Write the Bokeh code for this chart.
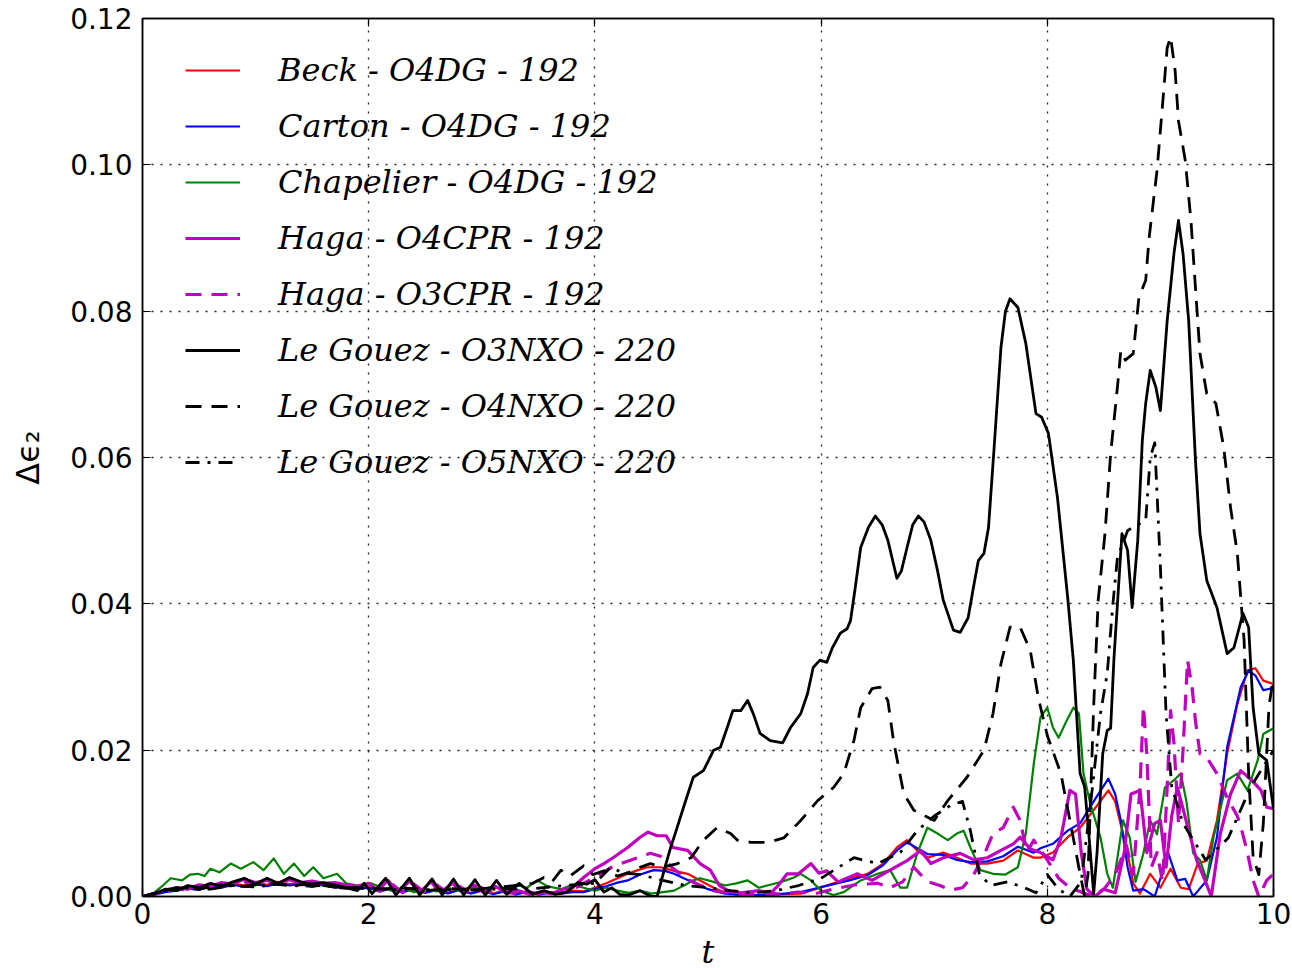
from bokeh.plotting import figure
from bokeh.models import (Legend, LegendItem, LinearAxis, FixedTicker,
                          CustomJSTickFormatter, Range1d)
from bokeh.embed import file_html
from bokeh.resources import INLINE

# ---- series: (t, delta eps_2) ----
beck_t = [0.0, 0.1, 0.2, 0.3, 0.4, 0.5, 0.6, 0.7, 0.8, 0.9, 1.0, 1.1, 1.2, 1.3, 1.4, 1.5, 1.6, 1.7, 1.8, 1.9,
          2.0, 2.1, 2.2, 2.3, 2.4, 2.5, 2.6, 2.7, 2.8, 2.9, 3.0, 3.1, 3.2, 3.3, 3.4, 3.5, 3.6, 3.7, 3.8, 3.9,
          4.0, 4.1, 4.2, 4.29, 4.38, 4.46, 4.58, 4.70, 4.82, 4.93, 5.05, 5.17, 5.3, 5.45, 5.6, 5.82, 5.95,
          6.11, 6.25, 6.41, 6.55, 6.67, 6.76, 6.85, 6.94, 7.08, 7.20, 7.32, 7.47, 7.61, 7.74, 7.88, 7.94,
          8.05, 8.18, 8.29, 8.41, 8.54, 8.60, 8.71, 8.76, 8.82, 8.91, 9.00, 9.09, 9.18, 9.25, 9.33, 9.41,
          9.50, 9.59, 9.68, 9.77, 9.84, 9.91, 9.97, 10.0]
beck_v = [0.0, 0.0003, 0.0008, 0.0010, 0.0013, 0.0011, 0.0016, 0.0014, 0.0018, 0.0015, 0.0019, 0.0016,
          0.0020, 0.0017, 0.0019, 0.0015, 0.0017, 0.0013, 0.0015, 0.0011, 0.0013, 0.0008, 0.0012, 0.0007,
          0.0011, 0.0006, 0.0010, 0.0005, 0.0010, 0.0005, 0.0009, 0.0004, 0.0008, 0.0004, 0.0007, 0.0004,
          0.0006, 0.0005, 0.0008, 0.0007, 0.0012, 0.0018, 0.0025, 0.0031, 0.0036, 0.0040, 0.0040, 0.0035,
          0.0031, 0.0022, 0.0012, 0.0004, 0.0003, 0.0002, 0.0003, 0.0004, 0.0010, 0.0018, 0.0024, 0.0031,
          0.0045, 0.0067, 0.0077, 0.0063, 0.0053, 0.0060, 0.0053, 0.0045, 0.0045, 0.0049, 0.0063, 0.0053,
          0.0053, 0.0060, 0.0081, 0.0094, 0.0118, 0.0145, 0.0130, 0.0059, 0.0018, 0.0004, 0.0031, 0.0012,
          0.0038, 0.0012, 0.0010, 0.0045, 0.0049, 0.0104, 0.0195, 0.0263, 0.0309, 0.0312, 0.0295, 0.0292,
          0.0290]

carton_t = [0.0, 0.1, 0.2, 0.3, 0.4, 0.5, 0.6, 0.7, 0.8, 0.9, 1.0, 1.1, 1.2, 1.3, 1.4, 1.5, 1.6, 1.7, 1.8, 1.9,
            2.0, 2.1, 2.2, 2.3, 2.4, 2.5, 2.6, 2.7, 2.8, 2.9, 3.0, 3.1, 3.2, 3.3, 3.4, 3.5, 3.6, 3.7, 3.8, 3.9,
            4.0, 4.1, 4.2, 4.29, 4.40, 4.52, 4.62, 4.70, 4.80, 4.87, 5.0, 5.15, 5.3, 5.45, 5.6, 5.82, 5.95,
            6.11, 6.25, 6.41, 6.55, 6.67, 6.76, 6.85, 6.94, 7.08, 7.20, 7.32, 7.47, 7.61, 7.74, 7.88, 7.94,
            8.05, 8.18, 8.29, 8.41, 8.54, 8.60, 8.65, 8.71, 8.76, 8.85, 8.95, 9.07, 9.15, 9.22, 9.29, 9.41,
            9.50, 9.59, 9.71, 9.78, 9.84, 9.91, 9.97, 10.0]
carton_v = [0.0, 0.0002, 0.0006, 0.0008, 0.0011, 0.0009, 0.0014, 0.0012, 0.0016, 0.0013, 0.0017, 0.0014,
            0.0018, 0.0015, 0.0017, 0.0013, 0.0016, 0.0012, 0.0014, 0.0010, 0.0012, 0.0007, 0.0011, 0.0006,
            0.0010, 0.0005, 0.0009, 0.0004, 0.0009, 0.0004, 0.0008, 0.0003, 0.0007, 0.0003, 0.0006, 0.0003,
            0.0005, 0.0004, 0.0006, 0.0006, 0.0010, 0.0014, 0.0019, 0.0022, 0.0030, 0.0036, 0.0035, 0.0031,
            0.0024, 0.0019, 0.0010, 0.0004, 0.0002, 0.0002, 0.0003, 0.0006, 0.0011, 0.0017, 0.0022, 0.0029,
            0.0043, 0.0063, 0.0074, 0.0066, 0.0058, 0.0057, 0.0050, 0.0047, 0.0048, 0.0055, 0.0068, 0.0060,
            0.0066, 0.0072, 0.0090, 0.0100, 0.0130, 0.0161, 0.0140, 0.0104, 0.0040, 0.0008, 0.0010, 0.0000,
            0.0059, 0.0022, 0.0024, 0.0000, 0.0022, 0.0081, 0.0204, 0.0286, 0.0309, 0.0302, 0.0282, 0.0284,
            0.0288]

chapelier_t = [0.0, 0.1, 0.18, 0.25, 0.35, 0.42, 0.49, 0.55, 0.60, 0.68, 0.78, 0.87, 0.98, 1.07, 1.16, 1.25,
               1.34, 1.43, 1.51, 1.60, 1.72, 1.80, 1.90, 2.02, 2.12, 2.2, 2.3, 2.4, 2.5, 2.6, 2.7, 2.8, 2.9,
               3.0, 3.1, 3.2, 3.3, 3.4, 3.49, 3.58, 3.7, 3.8, 3.9, 4.0, 4.1, 4.2, 4.3, 4.4, 4.5, 4.6, 4.7,
               4.8, 4.87, 4.93, 5.05, 5.15, 5.25, 5.35, 5.45, 5.55, 5.65, 5.76, 5.82, 5.91, 6.0, 6.11, 6.2,
               6.35, 6.5, 6.61, 6.70, 6.76, 6.85, 6.94, 7.03, 7.12, 7.20, 7.26, 7.32, 7.41, 7.52, 7.63, 7.74,
               7.81, 7.88, 7.94, 8.00, 8.05, 8.10, 8.17, 8.23, 8.28, 8.32, 8.38, 8.47, 8.53, 8.58, 8.67, 8.73,
               8.78, 8.85, 8.91, 8.97, 9.04, 9.12, 9.18, 9.23, 9.29, 9.35, 9.41, 9.47, 9.59, 9.68, 9.77, 9.86,
               9.91, 10.0]
chapelier_v = [0.0, 0.0005, 0.0015, 0.0025, 0.0022, 0.0030, 0.0031, 0.0028, 0.0038, 0.0033, 0.0045, 0.0038,
               0.0047, 0.0036, 0.0052, 0.0031, 0.0045, 0.0028, 0.0040, 0.0025, 0.0031, 0.0018, 0.0015, 0.0018,
               0.0012, 0.0008, 0.0012, 0.0006, 0.0010, 0.0007, 0.0012, 0.0008, 0.0013, 0.0009, 0.0014, 0.0010,
               0.0016, 0.0012, 0.0022, 0.0014, 0.0010, 0.0016, 0.0012, 0.0008, 0.0012, 0.0008, 0.0005, 0.0008,
               0.0004, 0.0006, 0.0008, 0.0016, 0.0022, 0.0025, 0.0020, 0.0015, 0.0018, 0.0022, 0.0012, 0.0016,
               0.0020, 0.0026, 0.0031, 0.0022, 0.0008, 0.0002, 0.0006, 0.0022, 0.0031, 0.0036, 0.0012, 0.0012,
               0.0059, 0.0094, 0.0086, 0.0077, 0.0086, 0.0090, 0.0067, 0.0036, 0.0031, 0.0030, 0.0040, 0.0086,
               0.0181, 0.0245, 0.0258, 0.0231, 0.0217, 0.0240, 0.0258, 0.0250, 0.0168, 0.0127, 0.0081, 0.0031,
               0.0012, 0.0104, 0.0080, 0.0020, 0.0059, 0.0104, 0.0085, 0.0149, 0.0159, 0.0168, 0.0130, 0.0059,
               0.0050, 0.0022, 0.0081, 0.0159, 0.0168, 0.0145, 0.0186, 0.0222, 0.0230]

haga4_t = [0.0, 0.1, 0.2, 0.3, 0.4, 0.5, 0.6, 0.7, 0.8, 0.9, 1.0, 1.1, 1.2, 1.3, 1.4, 1.5, 1.6, 1.7, 1.8, 1.9,
           2.0, 2.08, 2.17, 2.26, 2.36, 2.45, 2.55, 2.64, 2.74, 2.83, 2.93, 3.02, 3.12, 3.22, 3.32, 3.42, 3.52,
           3.62, 3.72, 3.80, 3.90, 4.0, 4.08, 4.16, 4.29, 4.40, 4.47, 4.55, 4.63, 4.69, 4.82, 4.93, 5.02, 5.1,
           5.2, 5.3, 5.45, 5.55, 5.62, 5.70, 5.80, 5.91, 5.98, 6.05, 6.15, 6.32, 6.45, 6.61, 6.76, 6.88, 6.97,
           7.08, 7.23, 7.35, 7.47, 7.59, 7.70, 7.76, 7.85, 7.94, 8.05, 8.12, 8.20, 8.25, 8.30, 8.35, 8.42, 8.5,
           8.6, 8.68, 8.74, 8.82, 8.88, 8.95, 9.0, 9.05, 9.10, 9.15, 9.2, 9.25, 9.32, 9.40, 9.45, 9.53, 9.62,
           9.71, 9.80, 9.89, 9.94, 10.0]
haga4_v = [0.0, 0.0004, 0.0009, 0.0012, 0.0010, 0.0016, 0.0014, 0.0019, 0.0017, 0.0024, 0.0019, 0.0022,
           0.0018, 0.0023, 0.0019, 0.0021, 0.0018, 0.0019, 0.0016, 0.0014, 0.0018, 0.0008, 0.0022, 0.0006,
           0.0021, 0.0006, 0.0020, 0.0006, 0.0018, 0.0006, 0.0016, 0.0005, 0.0014, 0.0004, 0.0008, 0.0003,
           0.0006, 0.0004, 0.0010, 0.0012, 0.0026, 0.0038, 0.0045, 0.0053, 0.0067, 0.0081, 0.0088, 0.0083,
           0.0083, 0.0067, 0.0063, 0.0045, 0.0036, 0.0015, 0.0006, 0.0005, 0.0008, 0.0004, 0.0015, 0.0031,
           0.0031, 0.0045, 0.0032, 0.0035, 0.0020, 0.0031, 0.0022, 0.0036, 0.0049, 0.0063, 0.0045, 0.0053,
           0.0059, 0.0050, 0.0053, 0.0063, 0.0072, 0.0081, 0.0065, 0.0060, 0.0050, 0.0080, 0.0145, 0.0140,
           0.0060, 0.0010, 0.0000, 0.0010, 0.0005, 0.0060, 0.0140, 0.0145, 0.0060, 0.0100, 0.0104, 0.0040,
           0.0110, 0.0149, 0.0120, 0.0090, 0.0050, 0.0020, 0.0000, 0.0086, 0.0140, 0.0172, 0.0160, 0.0145,
           0.0122, 0.0120]

haga3_t = [0.0, 0.1, 0.2, 0.3, 0.4, 0.5, 0.6, 0.7, 0.8, 0.9, 1.0, 1.1, 1.2, 1.3, 1.4, 1.5, 1.6, 1.7, 1.8, 1.9,
           2.0, 2.1, 2.2, 2.3, 2.4, 2.5, 2.6, 2.7, 2.8, 2.9, 3.0, 3.1, 3.2, 3.3, 3.4, 3.5, 3.6, 3.7, 3.8, 3.9,
           4.05, 4.15, 4.23, 4.38, 4.49, 4.58, 4.68, 4.80, 4.92, 5.05, 5.2, 5.35, 5.5, 5.65, 5.8, 5.95, 6.1,
           6.3, 6.5, 6.61, 6.72, 6.82, 6.88, 6.95, 7.05, 7.15, 7.25, 7.35, 7.45, 7.52, 7.61, 7.70, 7.76, 7.82,
           7.88, 8.00, 8.1, 8.2, 8.3, 8.4, 8.5, 8.6, 8.7, 8.76, 8.82, 8.85, 8.88, 8.92, 8.97, 9.02, 9.06, 9.09,
           9.12, 9.16, 9.20, 9.24, 9.28, 9.31, 9.35, 9.41, 9.50, 9.59, 9.68, 9.72, 9.77, 9.82, 9.87, 9.94, 10.0]
haga3_v = [0.0, 0.0003, 0.0007, 0.0010, 0.0009, 0.0014, 0.0012, 0.0017, 0.0015, 0.0020, 0.0017, 0.0021,
           0.0017, 0.0022, 0.0018, 0.0020, 0.0017, 0.0018, 0.0015, 0.0013, 0.0016, 0.0007, 0.0018, 0.0005,
           0.0017, 0.0005, 0.0016, 0.0005, 0.0014, 0.0005, 0.0012, 0.0004, 0.0010, 0.0003, 0.0007, 0.0003,
           0.0005, 0.0004, 0.0009, 0.0018, 0.0031, 0.0040, 0.0045, 0.0053, 0.0059, 0.0055, 0.0040, 0.0025,
           0.0016, 0.0008, 0.0004, 0.0002, 0.0005, 0.0003, 0.0006, 0.0004, 0.0010, 0.0016, 0.0018, 0.0012,
           0.0020, 0.0040, 0.0030, 0.0020, 0.0015, 0.0009, 0.0012, 0.0030, 0.0060, 0.0086, 0.0094, 0.0122,
           0.0104, 0.0060, 0.0077, 0.0050, 0.0025, 0.0012, 0.0006, 0.0000, 0.0010, 0.0030, 0.0070, 0.0030,
           0.0150, 0.0260, 0.0195, 0.0040, 0.0060, 0.0020, 0.0150, 0.0254, 0.0210, 0.0100, 0.0200, 0.0323,
           0.0286, 0.0240, 0.0195, 0.0190, 0.0168, 0.0135, 0.0110, 0.0090, 0.0060, 0.0022, 0.0000, 0.0022,
           0.0031]

gouez3_t = [0.0, 0.1, 0.2, 0.3, 0.4, 0.5, 0.6, 0.7, 0.8, 0.9, 1.0, 1.1, 1.2, 1.3, 1.4, 1.5, 1.6, 1.7, 1.8, 1.9,
            1.96, 2.03, 2.15, 2.24, 2.36, 2.45, 2.56, 2.65, 2.75, 2.84, 2.94, 3.03, 3.13, 3.22, 3.33, 3.45, 3.55,
            3.65, 3.75, 3.85, 3.93, 4.0, 4.08, 4.15, 4.22, 4.3, 4.4, 4.5, 4.55, 4.62, 4.67, 4.71, 4.79, 4.87,
            4.96, 5.05, 5.11, 5.17, 5.22, 5.29, 5.35, 5.40, 5.46, 5.55, 5.66, 5.73, 5.82, 5.88, 5.93, 5.99,
            6.05, 6.10, 6.17, 6.23, 6.26, 6.30, 6.35, 6.42, 6.48, 6.54, 6.59, 6.67, 6.71, 6.76, 6.81, 6.86,
            6.91, 6.97, 7.03, 7.08, 7.17, 7.23, 7.30, 7.35, 7.39, 7.44, 7.48, 7.53, 7.59, 7.63, 7.67, 7.74,
            7.81, 7.90, 7.95, 8.01, 8.09, 8.18, 8.23, 8.29, 8.33, 8.37, 8.41, 8.44, 8.49, 8.53, 8.56, 8.59,
            8.66, 8.71, 8.75, 8.80, 8.84, 8.87, 8.91, 8.96, 9.00, 9.06, 9.12, 9.16, 9.20, 9.25, 9.31, 9.35,
            9.41, 9.50, 9.59, 9.65, 9.73, 9.78, 9.82, 9.87, 9.94, 10.0]
gouez3_v = [0.0, 0.0003, 0.0010, 0.0008, 0.0015, 0.0012, 0.0018, 0.0014, 0.0020, 0.0025, 0.0017, 0.0025,
            0.0018, 0.0026, 0.0020, 0.0017, 0.0019, 0.0016, 0.0012, 0.0008, 0.0018, 0.0004, 0.0025, 0.0002,
            0.0025, 0.0002, 0.0024, 0.0002, 0.0024, 0.0002, 0.0023, 0.0002, 0.0022, 0.0003, 0.0018, 0.0003,
            0.0008, 0.0003, 0.0006, 0.0019, 0.0017, 0.0023, 0.0006, 0.0012, 0.0003, 0.0002, 0.0008, 0.0000,
            0.0000, 0.0040, 0.0067, 0.0086, 0.0125, 0.0163, 0.0172, 0.0200, 0.0204, 0.0231, 0.0254, 0.0254,
            0.0268, 0.0250, 0.0223, 0.0213, 0.0210, 0.0231, 0.0250, 0.0277, 0.0313, 0.0323, 0.0320, 0.0340,
            0.0360, 0.0366, 0.0377, 0.0420, 0.0477, 0.0505, 0.0520, 0.0508, 0.0487, 0.0435, 0.0445, 0.0477,
            0.0508, 0.0520, 0.0512, 0.0487, 0.0445, 0.0405, 0.0364, 0.0361, 0.0381, 0.0425, 0.0459, 0.0469,
            0.0504, 0.0614, 0.0750, 0.0800, 0.0817, 0.0805, 0.0756, 0.0660, 0.0655, 0.0633, 0.0545, 0.0409,
            0.0323, 0.0168, 0.0150, 0.0080, 0.0004, 0.0060, 0.0195, 0.0227, 0.0230, 0.0327, 0.0496, 0.0473,
            0.0395, 0.0487, 0.0623, 0.0674, 0.0719, 0.0696, 0.0664, 0.0787, 0.0879, 0.0924, 0.0879, 0.0787,
            0.0596, 0.0496, 0.0432, 0.0395, 0.0332, 0.0340, 0.0387, 0.0368, 0.0258, 0.0195, 0.0186, 0.0120]

gouez4_t = [0.0, 0.1, 0.2, 0.3, 0.5, 0.7, 0.9, 1.1, 1.3, 1.5, 1.7, 1.9, 2.1, 2.3, 2.5, 2.7, 2.9, 3.1, 3.3, 3.45,
            3.55, 3.62, 3.70, 3.78, 3.90, 3.98, 4.08, 4.2, 4.3, 4.4, 4.49, 4.6, 4.73, 4.85, 4.96, 5.08, 5.20,
            5.26, 5.38, 5.53, 5.67, 5.82, 5.97, 6.11, 6.20, 6.29, 6.35, 6.45, 6.52, 6.59, 6.64, 6.73, 6.82,
            6.92, 7.00, 7.12, 7.29, 7.44, 7.52, 7.59, 7.67, 7.76, 7.85, 7.92, 8.00, 8.12, 8.20, 8.29, 8.33,
            8.36, 8.41, 8.45, 8.51, 8.56, 8.62, 8.65, 8.69, 8.76, 8.81, 8.87, 8.90, 8.97, 9.02, 9.06, 9.09,
            9.13, 9.16, 9.22, 9.27, 9.31, 9.35, 9.41, 9.49, 9.56, 9.62, 9.68, 9.74, 9.78, 9.82, 9.87, 9.91,
            9.96, 10.0]
gouez4_v = [0.0, 0.0004, 0.0008, 0.0012, 0.0010, 0.0016, 0.0014, 0.0018, 0.0015, 0.0017, 0.0013, 0.0012,
            0.0010, 0.0012, 0.0008, 0.0011, 0.0009, 0.0012, 0.0015, 0.0018, 0.0026, 0.0020, 0.0036, 0.0028,
            0.0042, 0.0030, 0.0035, 0.0028, 0.0033, 0.0040, 0.0045, 0.0040, 0.0045, 0.0053, 0.0077, 0.0094,
            0.0086, 0.0077, 0.0074, 0.0074, 0.0080, 0.0104, 0.0131, 0.0149, 0.0168, 0.0213, 0.0258, 0.0284,
            0.0286, 0.0268, 0.0213, 0.0141, 0.0118, 0.0110, 0.0104, 0.0131, 0.0163, 0.0200, 0.0250, 0.0318,
            0.0368, 0.0368, 0.0336, 0.0272, 0.0220, 0.0168, 0.0104, 0.0031, 0.0000, 0.0030, 0.0260, 0.0405,
            0.0496, 0.0605, 0.0696, 0.0746, 0.0733, 0.0742, 0.0819, 0.0842, 0.0900, 0.0992, 0.1084, 0.1160,
            0.1175, 0.1129, 0.1060, 0.1006, 0.0924, 0.0832, 0.0742, 0.0687, 0.0674, 0.0614, 0.0532, 0.0469,
            0.0350, 0.0168, 0.0053, 0.0030, 0.0100, 0.0260, 0.0300]

gouez5_t = [0.0, 0.2, 0.4, 0.6, 0.8, 1.0, 1.2, 1.4, 1.6, 1.8, 2.0, 2.2, 2.4, 2.6, 2.8, 3.0, 3.2, 3.4, 3.6, 3.8,
            4.0, 4.14, 4.25, 4.4, 4.6, 4.8, 5.0, 5.2, 5.4, 5.6, 5.8, 6.0, 6.29, 6.5, 6.7, 6.85, 7.0, 7.15,
            7.25, 7.32, 7.40, 7.50, 7.65, 7.8, 7.9, 8.0, 8.1, 8.2, 8.3, 8.4, 8.47, 8.53, 8.58, 8.62, 8.71,
            8.76, 8.87, 8.91, 8.95, 9.0, 9.05, 9.1, 9.2, 9.4, 9.6, 9.8, 10.0]
gouez5_v = [0.0, 0.0008, 0.0012, 0.0010, 0.0015, 0.0013, 0.0017, 0.0014, 0.0015, 0.0011, 0.0012, 0.0009,
            0.0011, 0.0008, 0.0010, 0.0009, 0.0011, 0.0010, 0.0013, 0.0016, 0.0018, 0.0040, 0.0032, 0.0030,
            0.0022, 0.0015, 0.0012, 0.0008, 0.0005, 0.0008, 0.0015, 0.0025, 0.0053, 0.0045, 0.0060, 0.0090,
            0.0110, 0.0125, 0.0130, 0.0090, 0.0030, 0.0015, 0.0020, 0.0012, 0.0005, 0.0030, 0.0010, 0.0000,
            0.0020, 0.0150, 0.0250, 0.0305, 0.0400, 0.0463, 0.0500, 0.0505, 0.0514, 0.0600, 0.0620, 0.0450,
            0.0250, 0.0150, 0.0100, 0.0050, 0.0080, 0.0150, 0.0200]

series = [
    ("Beck - O4DG - 192", beck_t, beck_v, "#ff0000", 2.2, "solid"),
    ("Carton - O4DG - 192", carton_t, carton_v, "#0000ff", 2.2, "solid"),
    ("Chapelier - O4DG - 192", chapelier_t, chapelier_v, "#008000", 2.2, "solid"),
    ("Haga - O4CPR - 192", haga4_t, haga4_v, "#bf00bf", 3.2, "solid"),
    ("Haga - O3CPR - 192", haga3_t, haga3_v, "#bf00bf", 3.2, "16 10"),
    ("Le Gouez - O3NXO - 220", gouez3_t, gouez3_v, "#000000", 2.8, "solid"),
    ("Le Gouez - O4NXO - 220", gouez4_t, gouez4_v, "#000000", 2.8, "16 10"),
    ("Le Gouez - O5NXO - 220", gouez5_t, gouez5_v, "#000000", 2.8, "14 8 3 8"),
]

x_ticks = [0, 2, 4, 6, 8, 10]
y_ticks = [0.0, 0.02, 0.04, 0.06, 0.08, 0.10, 0.12]

p = figure(frame_width=1131, frame_height=878,
           x_range=Range1d(0, 10), y_range=Range1d(0, 0.12),
           output_backend="svg", toolbar_location=None,
           min_border_left=142, min_border_right=19,
           min_border_top=18, min_border_bottom=72)
p.background_fill_color = "white"
p.border_fill_color = "white"
p.outline_line_color = "black"
p.outline_line_width = 1.5

items = []
for name, t, v, color, lw, dash in series:
    r = p.line(t, v, line_color=color, line_width=lw, line_dash=dash, line_join="round")
    items.append(LegendItem(label=name, renderers=[r]))

tick_font = "DejaVu Sans"
for ax in (p.xaxis[0], p.yaxis[0]):
    ax.major_tick_in = 8
    ax.major_tick_out = 0
    ax.minor_tick_in = 0
    ax.minor_tick_out = 0
    ax.axis_line_width = 1.5
    ax.major_tick_line_width = 1.2
    ax.major_label_text_font = tick_font
    ax.major_label_text_font_size = "28px"
    ax.major_label_text_color = "black"

p.xaxis[0].ticker = FixedTicker(ticks=x_ticks)
p.yaxis[0].ticker = FixedTicker(ticks=y_ticks)
p.xaxis[0].major_label_standoff = 6
p.yaxis[0].major_label_standoff = 10
p.yaxis[0].formatter = CustomJSTickFormatter(code="return tick.toFixed(2)")

p.xaxis[0].axis_label = "t"
p.xaxis[0].axis_label_text_font = "DejaVu Serif"
p.xaxis[0].axis_label_text_font_style = "italic"
p.xaxis[0].axis_label_text_font_size = "32px"
p.xaxis[0].axis_label_text_color = "black"
p.xaxis[0].axis_label_standoff = 6

p.yaxis[0].axis_label = "Δϵ₂"
p.yaxis[0].axis_label_text_font = tick_font
p.yaxis[0].axis_label_text_font_style = "normal"
p.yaxis[0].axis_label_text_font_size = "32px"
p.yaxis[0].axis_label_text_color = "black"
p.yaxis[0].axis_label_standoff = 20

# inward ticks on the top and right edges, without labels
blank = CustomJSTickFormatter(code="return ''")
top = LinearAxis(ticker=FixedTicker(ticks=x_ticks), formatter=blank,
                 major_tick_in=8, major_tick_out=0, minor_tick_in=0, minor_tick_out=0,
                 axis_line_width=1.5, major_tick_line_width=1.2, major_label_standoff=0)
right = LinearAxis(ticker=FixedTicker(ticks=y_ticks), formatter=blank,
                   major_tick_in=8, major_tick_out=0, minor_tick_in=0, minor_tick_out=0,
                   axis_line_width=1.5, major_tick_line_width=1.2, major_label_standoff=0)
p.add_layout(top, "above")
p.add_layout(right, "right")

p.xgrid[0].ticker = FixedTicker(ticks=x_ticks)
p.ygrid[0].ticker = FixedTicker(ticks=y_ticks)
for g in (p.xgrid[0], p.ygrid[0]):
    g.grid_line_color = "#222222"
    g.grid_line_width = 1.3
    g.grid_line_dash = "2 7"

# legend box anchored by its bottom-left corner, in pixels from the frame's bottom-left
legend = Legend(items=items, location=(43, 406),
                border_line_color=None, background_fill_alpha=0,
                padding=0, margin=0, spacing=0,
                glyph_width=55, glyph_height=20, label_height=56,
                label_standoff=38,
                label_text_font="DejaVu Serif", label_text_font_style="italic",
                label_text_font_size="32px", label_text_color="black")
p.add_layout(legend)

open("out.html", "w").write(file_html(p, INLINE))
